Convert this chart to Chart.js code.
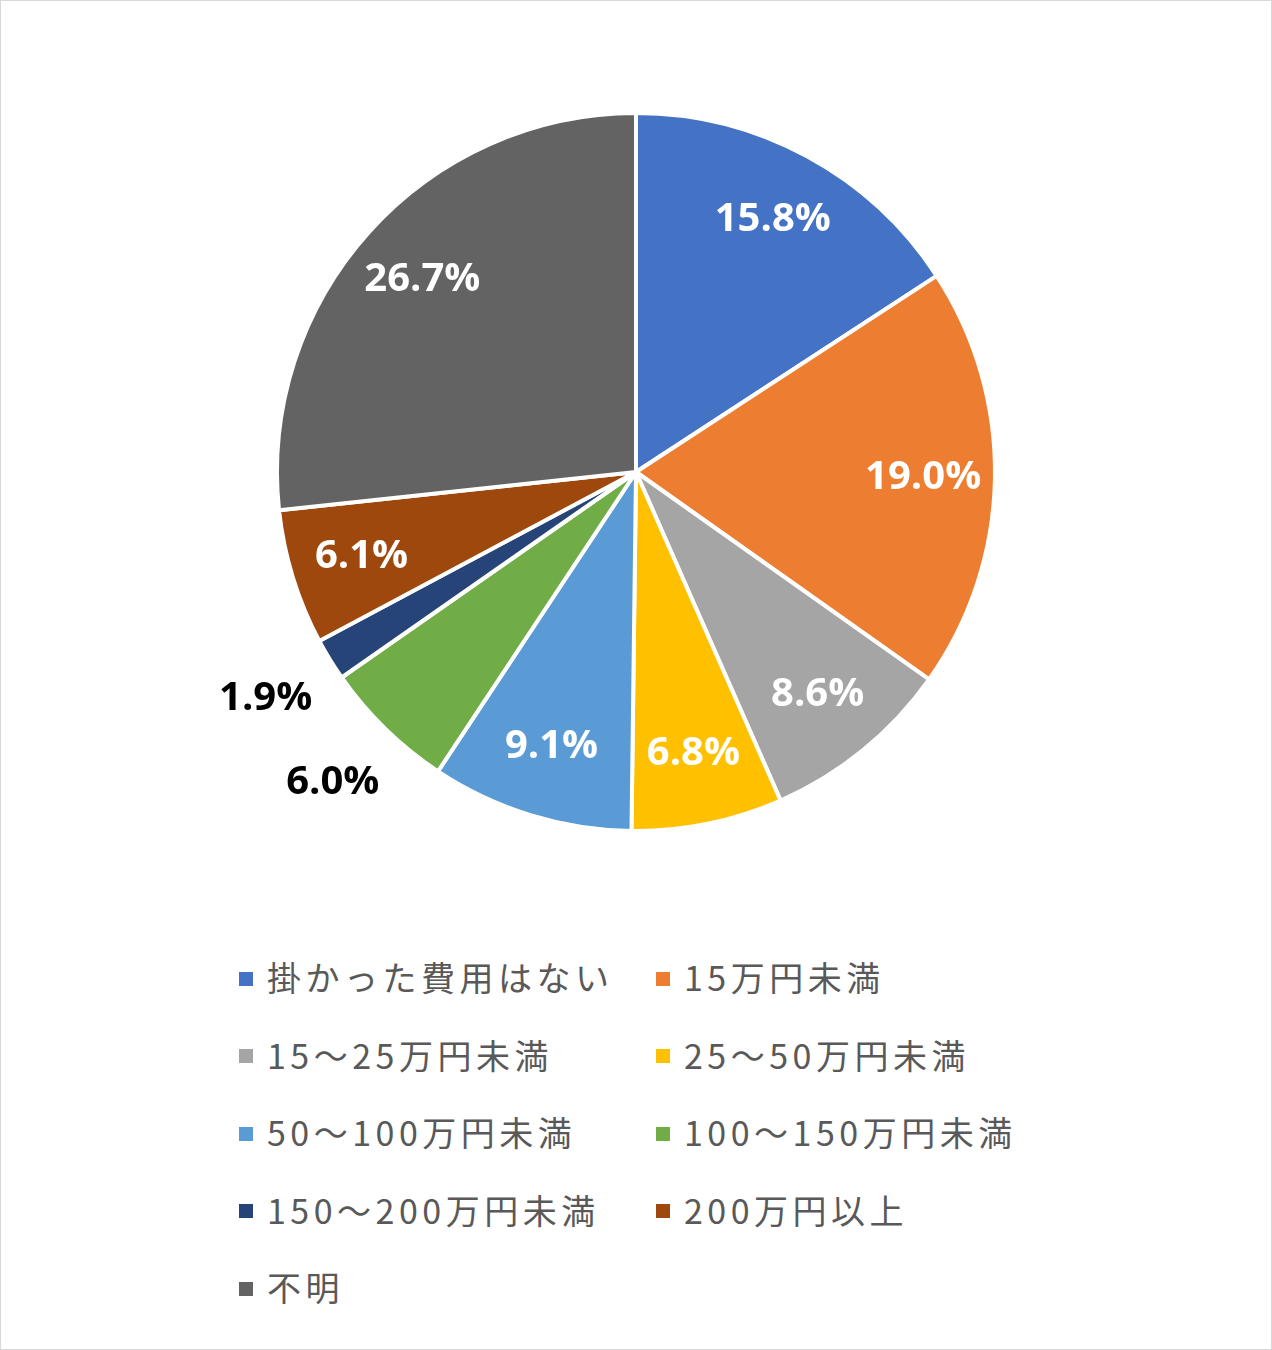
<!DOCTYPE html>
<html><head><meta charset="utf-8">
<script src="https://cdn.jsdelivr.net/npm/chart.js@4/dist/chart.umd.min.js"></script>
<style>
body{margin:0;background:#fff;}
#wrap{position:relative;width:1270px;height:1348px;border:1px solid #d9d9d9;background:#fff;}
#cw{position:absolute;left:0;top:0;width:1270px;height:940px;}
.lg{position:absolute;font-family:"Noto Sans CJK JP";font-size:34px;color:#595959;line-height:40px;white-space:nowrap;letter-spacing:4.5px;}
.lg i{display:inline-block;width:14px;height:14px;margin-right:14px;vertical-align:middle;position:relative;top:-3px;}
</style></head><body>
<div id="wrap"><div id="cw"><canvas id="c"></canvas></div><div id="legend"></div></div>
<script>
const categories=["掛かった費用はない","15万円未満","15～25万円未満","25～50万円未満","50～100万円未満","100～150万円未満","150～200万円未満","200万円以上","不明"];
const values=[15.8,19.0,8.6,6.8,9.1,6.0,1.9,6.1,26.7];
const colors=["#4472c4","#ed7d31","#a5a5a5","#ffc000","#5b9bd5","#70ad47","#264478","#9e480e","#636363"];
const outside=[5,6];
const labelPlugin={id:'lbl',afterDatasetsDraw(chart){
 const ctx=chart.ctx;const meta=chart.getDatasetMeta(0);
 ctx.save();ctx.font='bold 40px "Open Sans"';ctx.textAlign='center';ctx.textBaseline='middle';
 meta.data.forEach((a,i)=>{
  const mid=(a.startAngle+a.endAngle)/2;const out=outside.includes(i);
  const r=a.outerRadius*(out?1.21:0.8);
  ctx.fillStyle=out?'#000':'#fff';
  ctx.fillText(values[i].toFixed(1)+'%',a.x+Math.cos(mid)*r,a.y+Math.sin(mid)*r);
 });ctx.restore();}};
new Chart(document.getElementById('c'),{type:'pie',
 data:{labels:categories,datasets:[{data:values,backgroundColor:colors,borderColor:'#fff',borderWidth:4}]},
 options:{responsive:true,maintainAspectRatio:false,animation:false,
  layout:{padding:{top:110,bottom:108,left:0,right:0}},
  plugins:{legend:{display:false},tooltip:{enabled:false}}},
 plugins:[labelPlugin]});
const lg=document.getElementById('legend');
categories.forEach((c,i)=>{const d=document.createElement('div');d.className='lg';
 const col=i%2,row=Math.floor(i/2);
 d.style.left=(col?655:238)+'px';d.style.top=(956+row*77.5)+'px';
 d.innerHTML='<i style="background:'+colors[i]+'"></i>'+c;lg.appendChild(d);});
</script></body></html>
